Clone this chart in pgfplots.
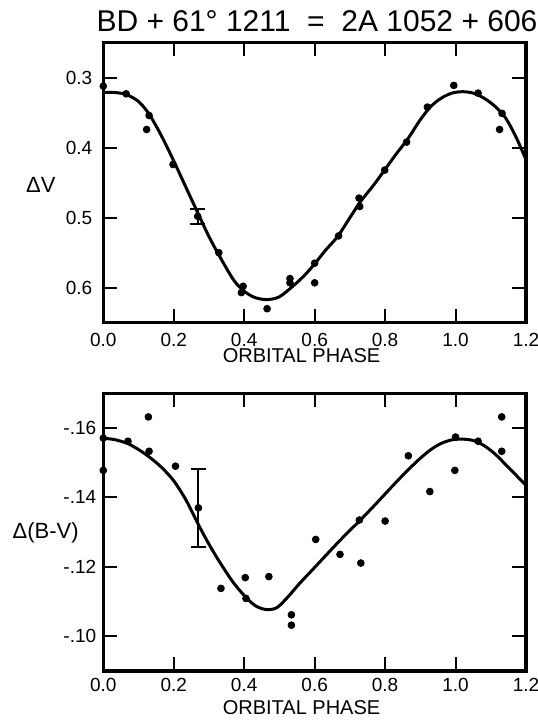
\documentclass[border=0pt]{standalone}
\usepackage{fontspec}
\setmainfont{Liberation Sans}
\usepackage{pgfplots}
\pgfplotsset{compat=1.18}

\pgfplotsset{
  phase/.style={
    scale only axis,
    width=211.35pt,
    xmin=0, xmax=1.2,
    y dir=reverse,
    xtick={0,0.2,0.4,0.6,0.8,1.0,1.2},
    xticklabels={0.0,0.2,0.4,0.6,0.8,1.0,1.2},
    tick align=inside,
    tick pos=both,
    major tick length=6.8pt,
    axis line style={line width=1.6pt},
    every tick/.style={black, line width=1pt},
    ticklabel style={font=\fontsize{9.5}{11}\selectfont},
    xlabel={ORBITAL PHASE},
  },
  dots/.style={only marks, mark=*, mark size=1.7pt, black},
  fit/.style={smooth, no marks, black, line width=1.5pt},
  bar/.style={only marks, mark=*, mark size=1.7pt, black,
    error bars/.cd, y dir=both, y explicit,
    error bar style={line width=1pt, black},
    error mark options={rotate=90, black, mark size=3.75pt, line width=1pt}},
}

\begin{document}
\begin{tikzpicture}
\useasboundingbox (0,0) rectangle (268.5pt,361pt);

\node[font=\fontsize{15}{17}\selectfont] at (158.5pt,350.5pt)
  {BD + 61° 1211 \ = \ 2A 1052 + 606};

% top panel: Delta V
\begin{axis}[phase,
  at={(51.65pt,199.65pt)}, anchor=south west,
  height=140pt,
  ymin=0.25, ymax=0.65,
  ytick={0.3,0.4,0.5,0.6},
  yticklabels={0.3,0.4,0.5,0.6},
  yticklabel style={xshift=-2pt},
  xticklabel style={yshift=-1.5pt},
  ylabel={ΔV},
  every axis y label/.style={at={(axis description cs:-0.148,0.492)}, anchor=center,
    font=\fontsize{11}{13}\selectfont},
  every axis x label/.style={at={(axis description cs:0.469,-0.119)}, anchor=center,
    font=\fontsize{10}{12}\selectfont},
]
\addplot[fit] coordinates {
(0.00,0.321) (0.03,0.321) (0.065,0.324) (0.10,0.334) (0.13,0.352)
(0.165,0.383) (0.20,0.419) (0.235,0.457) (0.27,0.495) (0.30,0.527)
(0.33,0.555) (0.37,0.589) (0.40,0.605) (0.43,0.614) (0.465,0.617)
(0.50,0.613) (0.54,0.597) (0.57,0.583) (0.60,0.566) (0.63,0.547)
(0.665,0.527) (0.70,0.500) (0.73,0.477) (0.765,0.455) (0.80,0.431)
(0.83,0.410) (0.865,0.387) (0.90,0.360) (0.93,0.341) (0.96,0.329)
(0.99,0.322) (1.02,0.320) (1.05,0.322) (1.08,0.329) (1.11,0.340)
(1.14,0.356) (1.17,0.383) (1.20,0.417)
};
\addplot[dots] coordinates {
(0.000,0.312) (0.065,0.323) (0.130,0.354) (0.123,0.374) (0.198,0.424)
(0.328,0.550) (0.397,0.598) (0.392,0.607) (0.465,0.630) (0.530,0.587)
(0.530,0.593) (0.600,0.565) (0.600,0.593) (0.668,0.526) (0.726,0.472)
(0.728,0.484) (0.799,0.432) (0.861,0.392) (0.920,0.342) (0.995,0.311)
(1.064,0.322) (1.132,0.351) (1.125,0.374)
};
\addplot[bar] coordinates {(0.268,0.498) +- (0,0.0105)};
\end{axis}

% bottom panel: Delta(B-V)
\begin{axis}[phase,
  at={(51.65pt,25.5pt)}, anchor=south west,
  height=138.85pt,
  ymin=-0.17, ymax=-0.09,
  ytick={-0.16,-0.14,-0.12,-0.10},
  yticklabels={-.16,-.14,-.12,-.10},
  ylabel={Δ(B-V)},
  every axis y label/.style={at={(axis description cs:-0.1365,0.497)}, anchor=center,
    font=\fontsize{11}{13}\selectfont},
  every axis x label/.style={at={(axis description cs:0.469,-0.133)}, anchor=center,
    font=\fontsize{10}{12}\selectfont},
]
\addplot[fit] coordinates {
(0.00,-0.1571) (0.035,-0.1566) (0.07,-0.1555) (0.10,-0.1538) (0.13,-0.1517)
(0.165,-0.1487) (0.20,-0.1448) (0.235,-0.1392) (0.275,-0.1312) (0.303,-0.1260)
(0.331,-0.1213) (0.369,-0.1155) (0.407,-0.1110) (0.435,-0.1086) (0.464,-0.1077)
(0.492,-0.1082) (0.521,-0.1110) (0.558,-0.1153) (0.596,-0.1194) (0.653,-0.1256)
(0.691,-0.1296) (0.729,-0.1334) (0.765,-0.1372) (0.80,-0.1410) (0.835,-0.1448)
(0.87,-0.1484) (0.90,-0.1513) (0.93,-0.1538) (0.96,-0.1556) (0.99,-0.1566)
(1.02,-0.1568) (1.05,-0.1564) (1.08,-0.1550) (1.11,-0.1527) (1.14,-0.1497)
(1.17,-0.1466) (1.20,-0.1435)
};
\addplot[dots] coordinates {
(0.000,-0.1571) (0.000,-0.1478) (0.070,-0.1562) (0.128,-0.1632) (0.130,-0.1533)
(0.205,-0.1490) (0.334,-0.1138) (0.403,-0.1169) (0.405,-0.1109) (0.470,-0.1172)
(0.534,-0.1062) (0.534,-0.1032) (0.603,-0.1279) (0.672,-0.1236) (0.727,-0.1335)
(0.731,-0.1211) (0.800,-0.1332) (0.866,-0.1520) (0.927,-0.1417) (1.000,-0.1574)
(0.998,-0.1478) (1.064,-0.1562) (1.131,-0.1632) (1.131,-0.1533)
};
\addplot[bar] coordinates {(0.270,-0.1370) +- (0,0.0113)};
\end{axis}
\end{tikzpicture}
\end{document}
